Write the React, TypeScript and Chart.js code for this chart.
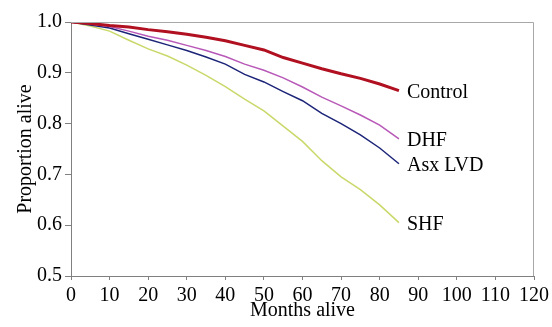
import React, { useEffect, useRef } from "react";
import { Chart, registerables } from "chart.js";

Chart.register(...registerables);

const months = [0, 5, 10, 15, 20, 25, 30, 35, 40, 45, 50, 55, 60, 65, 70, 75, 80, 85];
const controlValues = [1.0, 0.997, 0.993, 0.99, 0.985, 0.981, 0.976, 0.97, 0.963, 0.954, 0.945, 0.93, 0.919, 0.908, 0.898, 0.889, 0.878, 0.865];
const dhfValues = [1.0, 0.996, 0.991, 0.982, 0.972, 0.964, 0.954, 0.944, 0.932, 0.917, 0.905, 0.89, 0.872, 0.852, 0.835, 0.817, 0.797, 0.77];
const asxValues = [1.0, 0.994, 0.988, 0.977, 0.966, 0.955, 0.944, 0.931, 0.917, 0.897, 0.882, 0.863, 0.845, 0.82, 0.8, 0.778, 0.752, 0.721];
const shfValues = [1.0, 0.992, 0.982, 0.964, 0.947, 0.933, 0.915, 0.895, 0.873, 0.848, 0.825, 0.795, 0.765, 0.727, 0.695, 0.67, 0.64, 0.605];
const seriesNames = ["Control", "DHF", "Asx LVD", "SHF"];
const xTitle = "Months alive";
const yTitle = "Proportion alive";

const FONT = "'Liberation Serif', 'Times New Roman', serif";

const frame = {
  id: "frame",
  afterDraw(chart: any) {
    const { ctx, chartArea } = chart;
    ctx.save();
    ctx.strokeStyle = "#a8a8a8";
    ctx.lineWidth = 1;
    ctx.beginPath();
    ctx.moveTo(chartArea.left, chartArea.top + 0.5);
    ctx.lineTo(chartArea.right - 0.5, chartArea.top + 0.5);
    ctx.lineTo(chartArea.right - 0.5, chartArea.bottom);
    ctx.stroke();
    ctx.restore();
  },
};

const endLabels = {
  id: "endLabels",
  afterDatasetsDraw(chart: any) {
    const { ctx } = chart;
    ctx.save();
    ctx.font = `20px ${FONT}`;
    ctx.fillStyle = "#000";
    ctx.textAlign = "left";
    ctx.textBaseline = "middle";
    chart.data.datasets.forEach((ds: any, i: number) => {
      const meta = chart.getDatasetMeta(i);
      const pt = meta.data[meta.data.length - 1];
      ctx.fillText(ds.label, pt.x + 8, pt.y + 2);
    });
    ctx.restore();
  },
};

export default function App() {
  const ref = useRef<HTMLCanvasElement>(null);
  useEffect(() => {
    const toXY = (vals: number[]) => vals.map((v, i) => ({ x: months[i], y: v }));
    const chart = new Chart(ref.current!, {
      type: "line",
      data: {
        datasets: [
          { label: seriesNames[0], data: toXY(controlValues), borderColor: "#b01020", borderWidth: 3 },
          { label: seriesNames[1], data: toXY(dhfValues), borderColor: "#b858b8", borderWidth: 1.5 },
          { label: seriesNames[2], data: toXY(asxValues), borderColor: "#1c2478", borderWidth: 1.5 },
          { label: seriesNames[3], data: toXY(shfValues), borderColor: "#cad86a", borderWidth: 1.5 },
        ],
      },
      options: {
        animation: false,
        responsive: true,
        maintainAspectRatio: false,
        elements: { point: { radius: 0 }, line: { tension: 0 } },
        layout: { padding: { top: 22, right: 18, left: 0, bottom: 0 } },
        plugins: { legend: { display: false }, tooltip: { enabled: false } },
        scales: {
          x: {
            type: "linear",
            min: 0,
            max: 120,
            afterFit: (s: any) => { s.height = 51; s.paddingLeft = 0; s.paddingRight = 0; },
            grid: { display: true, drawOnChartArea: false, tickLength: 4, color: "#808080" },
            border: { color: "#808080", width: 1 },
            ticks: { stepSize: 10, padding: 4, color: "#000", maxRotation: 0, font: { family: FONT, size: 20 } },
            title: { display: true, text: xTitle, color: "#000", padding: { top: 0, bottom: 4 }, font: { family: FONT, size: 20 } },
          },
          y: {
            min: 0.5,
            max: 1.0,
            afterFit: (s: any) => { s.width = 71; },
            grid: { display: true, drawOnChartArea: false, tickLength: 6, color: "#808080" },
            border: { color: "#808080", width: 1 },
            ticks: { stepSize: 0.1, padding: 3, color: "#000", font: { family: FONT, size: 20 }, callback: (v: any) => Number(v).toFixed(1) },
            title: { display: true, text: yTitle, color: "#000", padding: { top: 14, bottom: 0 }, font: { family: FONT, size: 20 } },
          },
        },
      },
      plugins: [frame, endLabels],
    });
    return () => chart.destroy();
  }, []);
  return (
    <div style={{ position: "absolute", left: 0, top: 0, width: 552, height: 327, background: "#fff" }}>
      <canvas ref={ref} />
    </div>
  );
}
